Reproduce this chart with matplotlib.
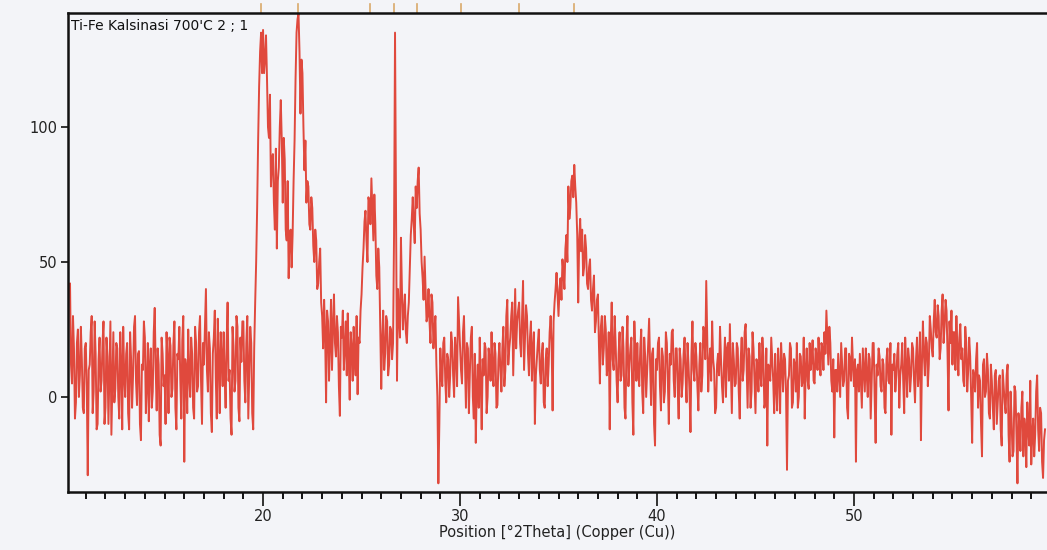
import numpy as np
import matplotlib
matplotlib.use("Agg")
import matplotlib.pyplot as plt

# 2-theta sampling grid (degrees)
theta_start = 10.2
theta_step = 0.1

# intensity (counts) at 10.2, 10.3, ... 59.7
intensity = [
    42, 5, 18, -2, 25, 8, 14, -6,                      # 10.2-10.9
    20, -29, 12, 30, 2, 16, -10, 22, 6, 28,            # 11
    -4, 15, 9, -14, 24, 3, 18, -8, 12, 26,             # 12
    0, 20, -12, 14, 8, 30, -3, 17, -16, 10,            # 13
    22, 5, -9, 18, 2, 33, -5, 12, -18, 16,             # 14
    8, 24, -6, 19, 3, 28, -12, 14, 6, 21,              # 15
    -24, 10, 25, 0, 16, -8, 20, 4, 30, -10,            # 16
    12, 40, 2, 18, -13, 22, 7, 29, -6, 15,             # 17
    24, -4, 35, 10, -14, 19, 6, 26, -9, 13,            # 18
    28, -2, 30, 9, 20, -12, 35, 70, 115, 135,          # 19
    136, 125, 118, 96, 78, 90, 62, 55, 85, 110,        # 20
    72, 88, 58, 44, 62, 60, 95, 135, 142, 105,         # 21
    120, 84, 72, 78, 62, 70, 50, 58, 42, 55,           # 22
    30, 36, -2, 28, 20, 10, 38, 15, 24, -7,            # 23
    22, 10, 28, 31, -1, 18, 26, 8, 1, 20,              # 24
    38, 55, 69, 50, 72, 81, 58, 64, 40, 48,            # 25
    3, 32, 16, 28, 12, 25, 20, 135, 6, 30,             # 26
    59, 25, 38, 20, 35, 60, 74, 57, 70, 85,            # 27
    62, 44, 52, 28, 40, 20, 35, 25, 12, -32,           # 28
    18, 4, 22, -2, 14, 8, 20, 0, 16, 37,               # 29
    20, 5, 30, -4, 18, 9, 26, -8, -17, 12,             # 30
    22, -12, 8, 18, 0, 14, 24, 4, 16, -3,              # 31
    20, 2, 26, 10, 36, 18, 30, 8, 40, 28,              # 32
    35, 15, 43, 22, 30, 8, 28, 18, -10, 14,            # 33
    25, 5, 20, -4, 18, 12, 30, -5, 35, 46,             # 34
    30, 44, 51, 40, 60, 78, 70, 82, 86, 72,            # 35
    35, 66, 62, 48, 55, 40, 51, 32, 45, 28,            # 36
    38, 5, 30, 18, 25, 12, -12, 35, 10, 20,            # 37
    -2, 24, 8, 18, -8, 30, 12, 22, -14, 15,            # 38
    20, 4, 25, -6, 15, 10, 29, -3, 18, -18,            # 39
    10, 22, -5, 15, 2, 20, -10, 12, 25, 0,             # 40
    18, -8, 14, 5, 22, -2, 12, -13, 28, 6,             # 41
    15, -5, 20, 8, 24, 43, 2, 18, 28, 10,              # 42
    -4, 16, 26, 4, 12, 0, 20, 27, -6, 14,              # 43
    5, 18, -8, 22, 10, 27, -4, 15, 2, 18,              # 44
    -6, 12, 20, 4, 15, -2, -18, 10, 22, 6,             # 45
    16, -5, 10, 20, 2, 14, -27, 8, 18, -2,             # 46
    12, 20, 0, 15, 6, -8, 18, 3, 10, 21,               # 47
    5, 15, 22, 8, 18, 24, 32, 12, 20, 2,               # 48
    -15, 10, 16, 0, 12, 6, 18, -8, 14, 22,             # 49
    4, -24, 12, 16, -4, 10, 18, 0, 14, 6,              # 50
    20, -17, 8, 15, 2, 12, -6, 18, 5, -14,             # 51
    10, 2, 16, -4, 12, 6, 22, 0, 14, 8,                # 52
    18, -2, 22, 10, -16, 28, 8, 20, 12, 25,            # 53
    15, 36, 22, 30, 18, 38, 26, 32, -5, 20,            # 54
    12, 24, 30, 8, 27, 18, 4, 20, 10, 15,              # 55
    -17, 8, 14, -4, 6, -22, 14, 2, 10, -8,             # 56
    6, -12, 10, -2, 8, -18, 4, -6, 12, -24,            # 57
    -8, -20, 2, -32, -10, -4, -22, -12, -2, -18,       # 58
    -25, -8, -14, 8, -20, -6, -30, -12,                # 59.0-59.7
]

# intensity read at the half steps 10.25, 10.35, ... 59.65
intensity_half = [
    12, 30, -8, 20, 0, 26, -4, 18,                     # 10.25-10.95
    4, 10, 24, -6, 28, -12, 14, 2, 20, -10,            # 11
    22, -10, 28, 6, -2, 20, 0, 24, -12, 8,             # 12
    16, -6, 24, -4, 26, 6, 16, -10, 12, 28,            # 13
    -6, 20, 12, -4, 24, 10, 18, -14, 22, 4,            # 14
    -10, 14, 22, 0, 20, -4, 16, 26, -8, 30,            # 15
    14, -6, 8, 22, -4, 26, 2, 24, 6, 20,               # 16
    26, 10, 24, -6, 16, 32, -8, 14, 24, 4,             # 17
    8, 20, 6, -8, 26, 2, 30, -4, 22, 28,               # 18
    6, 20, -8, 26, -6, 18, 50, 95, 128, 120,           # 19
    120, 134, 100, 112, 88, 72, 92, 80, 100, 95,       # 20
    96, 62, 80, 60, 48, 80, 118, 140, 128, 125,        # 21
    100, 95, 80, 64, 74, 56, 62, 40, 50, 35,           # 22
    18, 24, 32, 6, 36, 26, 20, 30, 4, 26,              # 23
    32, 18, 8, 14, 24, 6, 14, 30, 22, 32,              # 24
    48, 65, 58, 74, 64, 70, 75, 45, 55, 25,            # 25
    22, 10, 30, 8, 26, 14, 60, 70, 40, 22,             # 26
    40, 32, 24, 30, 48, 66, 64, 78, 80, 68,            # 27
    50, 36, 40, 30, 28, 38, 18, 30, 0, -10,            # 28
    8, 20, 6, 16, 0, 24, 8, 22, 4, 28,                 # 29
    10, 24, 12, 20, -6, 22, 0, 16, 4, -4,              # 30
    6, 14, 20, -6, 18, 6, 10, 20, -4, 14,              # 31
    10, 18, 4, 30, 12, 22, 35, 24, 18, 32,             # 32
    20, 30, 10, 34, 16, 22, 6, 24, 8, 20,              # 33
    10, 16, -2, 14, 4, 24, 20, 28, 40, 38,             # 34
    40, 36, 46, 55, 50, 66, 80, 74, 78, 60,            # 35
    58, 54, 45, 60, 42, 48, 36, 40, 24, 36,            # 36
    20, 26, 12, 30, 8, 24, 20, 14, 30, 6,              # 37
    16, 6, 26, -4, 20, 4, 18, -2, 28, 6,               # 38
    8, 18, 2, 22, 0, 20, 12, 16, -10, 14,              # 39
    20, 4, 18, -2, 24, 6, 16, 24, 6, 18,               # 40
    4, 18, 0, 16, 8, 20, 2, 16, 10, 20,                # 41
    4, 12, 2, 26, 14, 22, 12, 6, 14, -6,               # 42
    12, 8, 14, -2, 22, 18, 6, 10, 20, 4,               # 43
    20, 2, 14, 6, 24, 12, 18, -4, 24, 6,               # 44
    14, 2, 8, 22, -4, 18, 12, 6, 14, -6,               # 45
    4, 18, -6, 12, 16, 2, 6, 20, -4, 14,               # 46
    2, -4, 16, 4, 22, 10, 6, 20, 14, 6,                # 47
    18, 10, 14, 20, 10, 16, 22, 26, 6, 14,             # 48
    10, 2, 8, 20, 4, 18, -4, 16, 6, 12,                # 49
    14, 10, 2, 6, 18, 2, 8, 16, -8, 20,                # 50
    0, 12, 18, 4, 14, -4, 14, 6, 20, 12,               # 51
    16, 8, 20, 8, 20, -6, 12, 18, 2, 20,               # 52
    6, 14, 4, 24, 12, 16, 22, 4, 30, 18,               # 53
    28, 24, 34, 14, 32, 20, 36, 16, 28, 32,            # 54
    24, 10, 18, 22, 14, 6, 26, 2, 22, 0,               # 55
    10, 2, 20, 8, -10, 12, 0, 16, -6, 12,              # 56
    -4, 8, -10, 6, -12, 10, -2, 8, -14, 2,             # 57
    -22, 4, -14, -6, -20, 2, -8, -26, -12, 6,          # 58
    -14, -22, 2, -12, -4, -24, -16,                    # 59.05-59.65
]

# reference pattern peak positions (markers above the frame)
ref_positions = [19.9, 21.78, 25.43, 26.65, 27.82, 30.05, 32.99, 35.79]

title_text = "Ti-Fe Kalsinasi 700'C 2 ; 1"
xlabel_text = "Position [°2Theta] (Copper (Cu))"
x_major = [20, 30, 40, 50]
y_major = [0, 50, 100]

theta_a = theta_start + theta_step * np.arange(len(intensity))
theta_b = theta_start + theta_step / 2 + theta_step * np.arange(len(intensity_half))
theta = np.concatenate([theta_a, theta_b])
counts = np.concatenate([np.array(intensity, float), np.array(intensity_half, float)])
order = np.argsort(theta)
theta, counts = theta[order], counts[order]

bg = "#f3f4f8"
fig = plt.figure(figsize=(10.47, 5.5), dpi=100, facecolor=bg)
ax = fig.add_axes([0.065, 0.1055, 0.935, 0.8705], facecolor=bg)

ax.plot(theta, counts, color="#e0493d", lw=1.4)

ax.set_xlim(10.1, 59.8)
ax.set_ylim(-35.2, 142.2)

ax.spines["right"].set_visible(False)
for s in ("left", "bottom", "top"):
    ax.spines[s].set_linewidth(1.8)
    ax.spines[s].set_color("#111111")

ax.set_xticks(x_major)
ax.set_xticks(np.arange(11, 60, 1), minor=True)
ax.set_yticks(y_major)
ax.tick_params(axis="x", which="major", length=10, width=1.3, labelsize=10.5, pad=2, colors="#222222")
ax.tick_params(axis="x", which="minor", length=5, width=1.3)
ax.tick_params(axis="y", which="major", length=5, width=1.3, labelsize=10.5, pad=3, colors="#222222")

ax.set_xlabel(xlabel_text, fontsize=10.5, color="#222222", labelpad=1)

ax.text(0.003, 0.988, title_text, transform=ax.transAxes, ha="left", va="top",
        fontsize=10, color="#111111")

for p in ref_positions:
    ax.plot([p, p], [1.0, 1.02], transform=ax.get_xaxis_transform(),
            color="#d9a96a", lw=1.2, clip_on=False)

fig.savefig("out.png", dpi=100, facecolor=bg)
